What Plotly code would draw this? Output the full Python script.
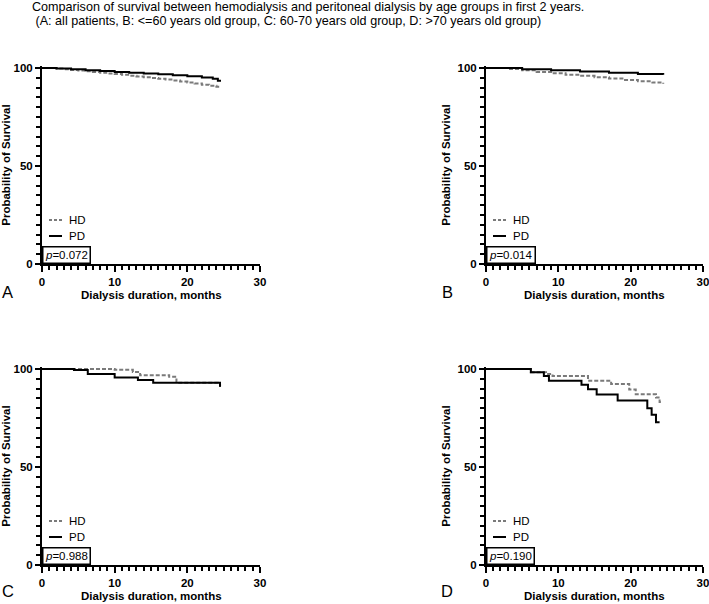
import plotly.graph_objects as go

# ---------------- data ----------------
panels = ["A", "B", "C", "D"]
p_values = ["0.072", "0.014", "0.988", "0.190"]
series_names = ["HD", "PD"]

# A: all patients
a_hd_months = [0, 2, 3, 4, 5, 6, 7, 8, 9, 10, 11, 12, 13, 14, 15, 16, 17, 18, 19, 20, 21, 22, 23, 24, 24.5]
a_hd_surv = [100, 99.7, 99.4, 99.0, 98.7, 98.3, 98.0, 97.6, 97.2, 96.9, 96.5, 96.1, 95.7, 95.3, 94.9,
             94.5, 94.1, 93.6, 93.1, 92.6, 92.1, 91.5, 91.0, 90.4, 89.8]
a_pd_months = [0, 2, 4, 6, 8, 10, 12, 14, 16, 18, 20, 22, 23.5, 24.2, 24.5]
a_pd_surv = [100, 99.7, 99.3, 98.9, 98.5, 98.0, 97.6, 97.2, 96.8, 96.3, 95.8, 95.2, 94.5, 93.5, 93.0]

# B: <=60 years
b_hd_months = [0, 2, 3, 5, 7, 9, 11, 13, 15, 17, 19, 21, 23, 24.5]
b_hd_surv = [100, 100, 99.5, 98.8, 98.0, 97.3, 96.6, 96.0, 95.3, 94.6, 93.9, 93.2, 92.6, 92.0]
b_pd_months = [0, 5, 9, 13, 17, 21, 24.5]
b_pd_surv = [100, 99.3, 98.8, 98.2, 97.6, 97.0, 96.5]

# C: 60-70 years
c_hd_months = [0, 10.0, 12.5, 13.5, 17.5, 18.5, 24.2, 24.5]
c_hd_surv = [100, 99.6, 98.5, 96.8, 96.0, 93.0, 92.5, 90.5]
c_pd_months = [0, 4.4, 6.3, 10.0, 13.2, 15.3, 24.3, 24.5]
c_pd_surv = [100, 99.5, 97.4, 95.6, 94.4, 93.0, 93.0, 91.0]

# D: >70 years
d_hd_months = [0, 6.2, 8.3, 9.2, 14.1, 17.3, 19.8, 20.7, 23.5, 24.0, 24.3]
d_hd_surv = [100, 98.3, 97.5, 96.4, 94.0, 92.3, 89.5, 87.1, 85.5, 83.1, 83.1]
d_pd_months = [0, 6.2, 8.0, 8.7, 13.2, 14.1, 15.3, 18.2, 22.3, 22.9, 23.5, 24.0]
d_pd_surv = [100, 98.3, 96.4, 94.0, 92.0, 89.7, 87.0, 83.9, 80.0, 76.6, 72.8, 72.8]

hd_data = [(a_hd_months, a_hd_surv), (b_hd_months, b_hd_surv), (c_hd_months, c_hd_surv), (d_hd_months, d_hd_surv)]
pd_data = [(a_pd_months, a_pd_surv), (b_pd_months, b_pd_surv), (c_pd_months, c_pd_surv), (d_pd_months, d_pd_surv)]

x_ticks = [0, 10, 20, 30]
y_ticks = [0, 50, 100]

title_line1 = "Comparison of survival between hemodialysis and peritoneal dialysis by age groups in first 2 years."
title_line2 = " (A: all patients, B: <=60 years old group, C: 60-70 years old group, D: >70 years old group)"
x_title = "Dialysis duration, months"
y_title = "Probability of Survival"

# ---------------- layout helpers (pixel geometry) ----------------
W, H = 709, 604
def fx(px):
    return px / W
def fy(py):
    return 1 - py / H

# (axis x px left, axis x px right, y px of 0, y px of 100)
geom = [
    (42, 260, 264, 68),
    (486, 703, 264, 68),
    (42, 260, 565, 369),
    (486, 703, 565, 369),
]
letter_pos = [(7, 292), (447, 292), (8, 591), (447, 591)]

FONT = "Liberation Sans, Arial, sans-serif"
HD_COLOR = "#7a7a7a"
PD_COLOR = "#000000"

fig = go.Figure()
layout_axes = {}
annotations = []
shapes = []

for i, name in enumerate(panels):
    xl, xr, y0, y100 = geom[i]
    ymax = 101
    ytop = y0 - (y0 - y100) * ymax / 100
    xa = "x" if i == 0 else f"x{i+1}"
    ya = "y" if i == 0 else f"y{i+1}"
    xkey = "xaxis" if i == 0 else f"xaxis{i+1}"
    ykey = "yaxis" if i == 0 else f"yaxis{i+1}"

    hx, hy = hd_data[i]
    px_, py_ = pd_data[i]
    fig.add_trace(go.Scatter(x=hx, y=hy, mode="lines", line=dict(shape="hv", color=HD_COLOR, width=2, dash="4px,2px"),
                             name=series_names[0], showlegend=False, xaxis=xa, yaxis=ya))
    fig.add_trace(go.Scatter(x=px_, y=py_, mode="lines", line=dict(shape="hv", color=PD_COLOR, width=2),
                             name=series_names[1], showlegend=False, xaxis=xa, yaxis=ya))

    tickfont = dict(family=FONT, size=11.5, color="black", weight="bold")
    layout_axes[xkey] = dict(
        domain=[fx(xl), fx(xr)], range=[0, 30], anchor=ya,
        tickmode="array", tickvals=x_ticks, ticktext=[str(t) for t in x_ticks],
        showline=True, linecolor="black", linewidth=2,
        ticks="outside", ticklen=6, tickwidth=2, tickcolor="black",
        minor=dict(dtick=1, ticks="outside", ticklen=4, tickwidth=2, tickcolor="black", showgrid=False),
        showgrid=False, zeroline=False, tickfont=tickfont, ticklabeloverflow="allow",
        automargin=False,
    )
    layout_axes[ykey] = dict(
        domain=[fy(y0), fy(ytop)], range=[0, ymax], anchor=xa,
        tickmode="array", tickvals=y_ticks, ticktext=[str(t) for t in y_ticks],
        showline=True, linecolor="black", linewidth=2,
        ticks="outside", ticklen=5, tickwidth=2, tickcolor="black",
        minor=dict(dtick=5, tick0=0, ticks="outside", ticklen=4, tickwidth=2, tickcolor="black", showgrid=False),
        showgrid=False, zeroline=False, tickfont=tickfont, ticklabeloverflow="allow",
        title=dict(text=y_title, font=dict(family=FONT, size=11.5, color="black", weight="bold"), standoff=4),
        automargin=False,
    )

    # x-axis title (placed just below the tick labels)
    annotations.append(dict(text=x_title, xref="paper", yref="paper", x=fx((xl + xr) / 2), y=fy(y0 + 31),
                            xanchor="center", yanchor="middle", showarrow=False, borderpad=0,
                            font=dict(family=FONT, size=11.5, color="black", weight="bold")))

    # legend keys
    for k, (yoff, color, dash, label) in enumerate([(44, HD_COLOR, "3px,2px", series_names[0]),
                                                     (28, PD_COLOR, "solid", series_names[1])]):
        shapes.append(dict(type="line", xref="paper", yref="paper",
                           x0=fx(xl + 7), x1=fx(xl + 20), y0=fy(y0 - yoff), y1=fy(y0 - yoff),
                           line=dict(color=color, width=2, dash=dash)))
        annotations.append(dict(text=label, xref="paper", yref="paper", x=fx(xl + 25), y=fy(y0 - yoff),
                                xanchor="left", yanchor="middle", showarrow=False,
                                font=dict(family=FONT, size=11.5, color="black")))
    # p-value box
    annotations.append(dict(text=f"<i>p</i>={p_values[i]}", xref="paper", yref="paper",
                            x=fx(xl), y=fy(y0), xanchor="left", yanchor="bottom", showarrow=False,
                            bordercolor="black", borderwidth=1.5, borderpad=1.5, bgcolor="white",
                            font=dict(family=FONT, size=11.5, color="black")))
    # panel letter
    lx, ly = letter_pos[i]
    annotations.append(dict(text=name, xref="paper", yref="paper", x=fx(lx), y=fy(ly),
                            xanchor="center", yanchor="middle", showarrow=False, borderpad=0,
                            font=dict(family=FONT, size=16.5, color="black")))

annotations.append(dict(text=title_line1, xref="paper", yref="paper", x=fx(30), y=fy(7),
                        xanchor="left", yanchor="middle", showarrow=False,
                        font=dict(family=FONT, size=12.6, color="black")))
annotations.append(dict(text=title_line2, xref="paper", yref="paper", x=fx(30), y=fy(21),
                        xanchor="left", yanchor="middle", showarrow=False,
                        font=dict(family=FONT, size=12.6, color="black")))

fig.update_layout(
    width=W, height=H, margin=dict(l=0, r=0, t=0, b=0),
    paper_bgcolor="white", plot_bgcolor="white",
    font=dict(family=FONT, color="black"),
    showlegend=False, template="none",
    annotations=annotations, shapes=shapes,
    **layout_axes,
)

# remove the browser's default 8px body margin so the 709x604 figure fills the window exactly
fig.write_html("out.html", config={"displayModeBar": False},
               post_script="document.body.style.margin='0';document.body.style.overflow='hidden';")
